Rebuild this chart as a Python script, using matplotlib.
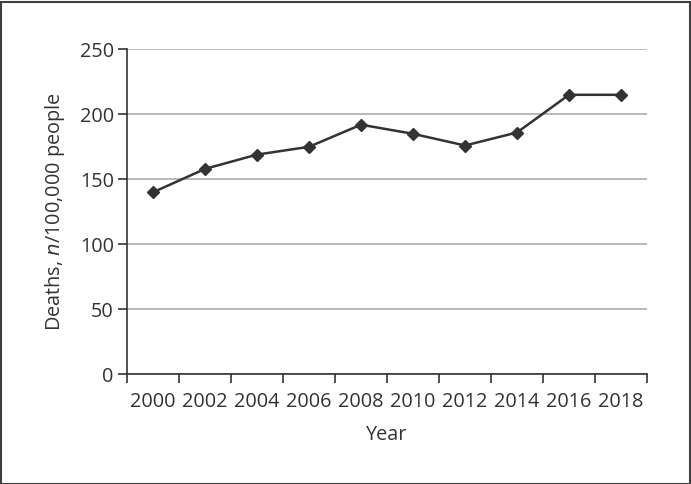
import matplotlib
matplotlib.use("Agg")
import matplotlib.pyplot as plt
from matplotlib.patches import Rectangle
import numpy as np

years = ["2000", "2002", "2004", "2006", "2008", "2010", "2012", "2014", "2016", "2018"]
deaths = [140, 158, 169, 175, 192, 185, 176, 186, 215, 215]
y_ticks = [0, 50, 100, 150, 200, 250]

plt.rcParams['font.family'] = ['Open Sans', 'DejaVu Sans']

fig = plt.figure(figsize=(6.91, 4.84), dpi=100)
ax = fig.add_axes([127/691, 1 - 374.3/484, (647 - 127)/691, (374.3 - 49.3)/484])

x = np.arange(len(years))
ax.plot(x, deaths, color='#333333', lw=1.8, marker='D', markersize=6.2,
        markerfacecolor='#333333', markeredgecolor='#333333', zorder=3)

ax.set_xlim(-0.5, len(years) - 0.5)
ax.set_ylim(0, 250)
ax.set_yticks(y_ticks)
ax.set_yticklabels([str(v) for v in y_ticks])
ax.set_xticks(x)
ax.set_xticklabels(years)
ax.set_xticks(np.arange(len(years) + 1) - 0.5, minor=True)

ax.grid(axis='y', color='#a6a6a6', lw=1.1, zorder=0)
ax.set_axisbelow(True)
for s in ['top', 'right']:
    ax.spines[s].set_visible(False)
for s in ['left', 'bottom']:
    ax.spines[s].set_color('#333333')
    ax.spines[s].set_linewidth(1.2)

fs = 14.3
ax.tick_params(axis='y', length=6.5, width=1.2, color='#333333', pad=3.0,
               labelsize=fs, labelcolor='#333333')
ax.tick_params(axis='x', which='major', length=0, pad=13, labelsize=fs, labelcolor='#333333')
ax.tick_params(axis='x', which='minor', length=6.5, width=1.2, color='#333333')

ax.set_xlabel("Year", fontsize=fs, color='#333333', labelpad=9)
ax.set_ylabel("Deaths, $\\it{n}$/100,000 people", fontsize=fs, color='#333333', labelpad=9)

fig.patches.append(Rectangle((0.5/691, 0.5/484), 1 - 2/691, 1 - 2.5/484,
                             transform=fig.transFigure, fill=False,
                             edgecolor='#404040', lw=1.5))

fig.savefig("out.png", dpi=100)
